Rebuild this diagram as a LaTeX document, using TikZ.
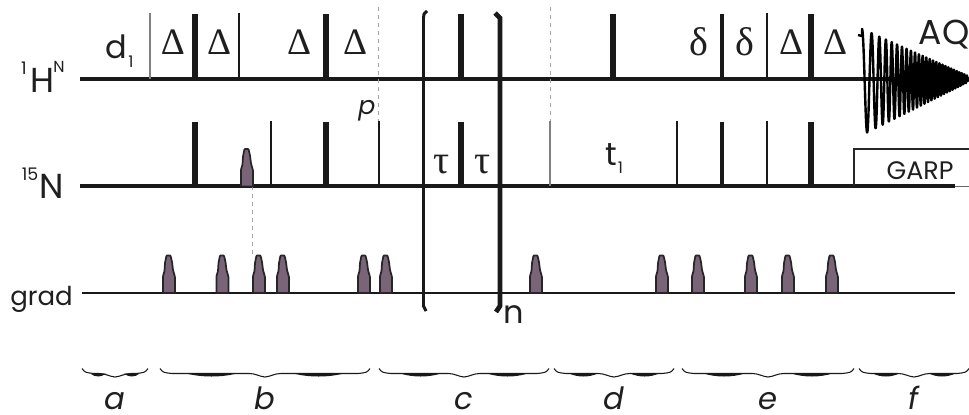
\documentclass[tikz,border=0pt]{standalone}
\usepackage{fontspec}
\setmainfont{Poppins}
\newfontfamily\grk{Liberation Serif}
\definecolor{gradfill}{RGB}{122,100,120}
\begin{document}
\begin{tikzpicture}[x=0.75pt,y=-0.75pt,
  every node/.style={inner sep=0pt,outer sep=0pt,text=black!88},
  axis/.style={line width=2.7pt,black!90},
  gaxis/.style={line width=2pt,black!90},
  wide/.style={line width=4.4pt,black!90},
  mid/.style={line width=3pt,black!90},
  thin1/.style={line width=2pt,black!90},
  hair/.style={line width=0.8pt,black!50},
  dash1/.style={line width=0.6pt,black!35,dashed},
  big/.style={font=\fontsize{26}{30}\selectfont,anchor=base},
  sup1/.style={font=\fontsize{13}{16}\selectfont,anchor=base},
  letter/.style={font=\fontsize{23}{26}\selectfont\itshape,anchor=base},
  gka/.style={font=\grk\fontsize{28}{30}\selectfont,anchor=base},
  gkb/.style={font=\grk\fontsize{30}{32}\selectfont,anchor=base},
  gshape/.pic={
    \draw[fill=gradfill,draw=black!85,line width=1.3pt,rounded corners=0.5pt]
      (-6,0)--(-6,-17)--(-4.5,-22)--(-4,-30)--(-2.5,-37.5)--(1.5,-37.5)--(3,-31)--(4,-23)--(6,-16)--(6,0)--cycle;},
  brc/.pic={
    \pgfmathsetmacro{\hw}{#1}
    \draw[line width=0.8pt,black!90] (-\hw,0) .. controls (-\hw+3,4) .. (-\hw+12,5)
      -- (-16,5) .. controls (-9,5) and (-6,8) .. (0,8.5) .. controls (6,8) and (9,5) .. (16,5)
      -- (\hw-12,5) .. controls (\hw-3,4) .. (\hw,0);
    \fill[black!90] (-\hw*0.75,5) .. controls (-\hw*0.6,9) and (-\hw*0.42,9) .. (-\hw*0.27,5) -- cycle;
    \fill[black!90] (\hw*0.27,5) .. controls (\hw*0.42,9) and (\hw*0.6,9) .. (\hw*0.75,5) -- cycle;}
]
\useasboundingbox (0,0) rectangle (969,414);
% channel lines
\draw[axis] (80,79) -- (969,79);
\draw[axis] (80,186) -- (955,186);
\draw[gaxis] (82,293) -- (955,293);
% dashed guides
\draw[dash1] (378,7) -- (378,121);
\draw[dash1] (550,7) -- (550,121);
\draw[dash1] (252,186) -- (252,258);
% 1H pulses
\draw[hair] (150,13) -- (150,79);
\foreach \x in {195,326,461,613,811} \draw[wide] (\x,13.5) -- (\x,79);
\draw[mid] (722,13.5) -- (722,79);
\foreach \x in {239,767} \draw[thin1] (\x,13) -- (\x,79);
% 15N pulses
\foreach \x in {195,326,461,811} \draw[wide] (\x,121.5) -- (\x,186);
\draw[mid] (722,121.5) -- (722,186);
\foreach \x in {271,677,767} \draw[thin1] (\x,121) -- (\x,186);
\draw[line width=1.4pt,black!90] (379,121) -- (379,186);
\draw[hair] (550,121) -- (550,186);
% selective pulse
\pic at (247,186.5) {gshape};
% gradients
\foreach \x in {169,222.5,259,283,364,386,536,662,698,751,788,832} \pic at (\x,293) {gshape};
% repeat brackets
\draw[line width=2.2pt,black!90] (427,11) -- (424,14) -- (423.5,18) -- (423.5,306) -- (426,311);
\draw[line width=3.6pt,black!90] (495,13) -- (500,18) -- (500,306) -- (496,312);
% FID
\draw[line width=1.8pt,black,line join=round,samples=1200,domain=0:1,variable=\s]
  (858,35) -- (862,36) -- plot ({862+106*\s},{79+3*(1-\s)-(3+50*(1-\s))*cos(360*(9.5*\s+17*\s*\s))});
% GARP box
\draw[line width=1.1pt,black!85] (854,186) -- (854,149) -- (969,149);
\draw[line width=0.6pt,black!60] (955,186) -- (969,186);
\node[font=\fontsize{19}{22}\selectfont,anchor=base] (garp) at (920,179) {GARP};
\node[font=\fontsize{26}{28}\selectfont,anchor=base] (aq) at (944,44) {AQ};
% channel labels
\node[big] (hlab) at (42,92) {H};
\node[sup1] (hone) at (24,74) {1};
\node[sup1,font=\fontsize{12}{14}\selectfont] (hsup) at (59,72) {N};
\node[big] (nlab) at (52,198) {N};
\node[sup1] (nsup) at (30,180) {15};
\node[font=\fontsize{19.5}{22}\selectfont,anchor=base] (glab) at (41.5,305) {grad};
\node[font=\fontsize{24}{26}\selectfont,anchor=base] (done) at (116,58) {d};
\node[font=\fontsize{12}{12}\selectfont,anchor=base] (donesub) at (131,67) {1};
\node[font=\fontsize{24}{26}\selectfont,anchor=base] (tone) at (611,165) {t};
\node[font=\fontsize{12}{12}\selectfont,anchor=base] (tonesub) at (620.5,173) {1};
\node[font=\fontsize{19}{22}\selectfont\itshape,anchor=base] (plab) at (367,114) {p};
\node[font=\fontsize{24}{30}\selectfont,anchor=base] (nrep) at (514,323) {n};
% Greek
\foreach \x/\n in {173/da,219/db,299/dc,355/dd,791/de,835/df} \node[gka] (\n) at (\x,54) {Δ};
\foreach \x/\n in {699/sa,745/sb} \node[gkb] (\n) at (\x,55) {δ};
\foreach \x/\n in {442/ta,483/tb} \node[gkb] (\n) at (\x,173) {τ};
% section braces
\pic at (115,368.5) {brc=33};
\pic at (265,368.5) {brc=105};
\pic at (464,368.5) {brc=85};
\pic at (614,368.5) {brc=60};
\pic at (768,368.5) {brc=86};
\pic at (914,368.5) {brc=55};
\node[letter] (la) at (115,409) {a};
\node[letter] (lb) at (265,409) {b};
\node[letter] (lc) at (464,409) {c};
\node[letter] (ld) at (614,409) {d};
\node[letter] (le) at (768,409) {e};
\node[letter] (lf) at (914,409) {f};
\end{tikzpicture}
\end{document}
